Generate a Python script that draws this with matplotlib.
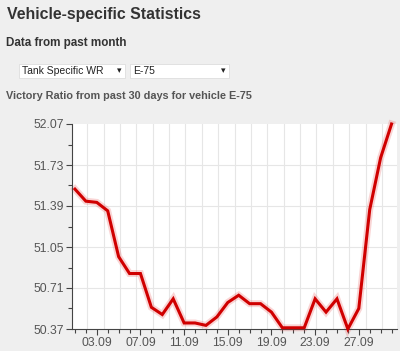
import matplotlib
matplotlib.use("Agg")
import matplotlib.pyplot as plt
from matplotlib.patches import Rectangle
import numpy as np

# data: victory ratio per day (September)
days = list(range(1, 31))
ratio = [51.53, 51.43, 51.42, 51.35, 50.97, 50.83, 50.83, 50.55, 50.49, 50.62,
         50.42, 50.42, 50.40, 50.47, 50.59, 50.65, 50.58, 50.58, 50.51, 50.38,
         50.38, 50.38, 50.62, 50.51, 50.62, 50.37, 50.54, 51.36, 51.79, 52.07]
label_days = [3, 7, 11, 15, 19, 23, 27]
tick_labels = ["03.09", "07.09", "11.09", "15.09", "19.09", "23.09", "27.09"]

FONT = ["Liberation Sans", "DejaVu Sans"]
BG = "#efefef"
plt.rcParams["font.family"] = FONT

fig = plt.figure(figsize=(4.0, 3.51), dpi=100, facecolor=BG)

# header texts
fig.text(7 / 400, 1 - 14 / 351, "Vehicle-specific Statistics", fontsize=11.4,
         fontweight="bold", color="#333333", va="center", ha="left")
fig.text(6 / 400, 1 - 43 / 351, "Data from past month", fontsize=8.4,
         fontweight="bold", color="#333333", va="center", ha="left")
fig.text(6 / 400, 1 - 96 / 351, "Victory Ratio from past 30 days for vehicle E-75",
         fontsize=7.8, fontweight="bold", color="#555555", va="center", ha="left")

# the two dropdowns
for x0, x1, txt in [(19, 125, "Tank Specific WR"), (130, 229, "E-75")]:
    fig.patches.append(Rectangle((x0 / 400, 1 - 77.5 / 351), (x1 - x0) / 400, 14 / 351,
                                 transform=fig.transFigure, facecolor="white",
                                 edgecolor="#dddddd", linewidth=0.6))
    fig.text((x0 + 3) / 400, 1 - 70.5 / 351, txt, fontsize=7.5, color="#222222",
             va="center", ha="left")
    fig.text((x1 - 6) / 400, 1 - 70.5 / 351, "\u25be", fontsize=6.5, color="#222222",
             va="center", ha="center")

ax = fig.add_axes([72 / 400, 1 - 329 / 351, 325 / 400, 205 / 351])
ax.set_facecolor("white")

ymin, ymax = min(ratio), max(ratio)
ax.set_ylim(ymin, ymax)
ax.set_xlim(0.73, 30.5)

yt = np.linspace(ymin, ymax, 6)
ax.set_yticks(yt)
ax.set_yticklabels([f"{v:.2f}" for v in yt])
ax.set_yticks((yt[:-1] + yt[1:]) / 2, minor=True)
ax.set_xticks(label_days)
ax.set_xticklabels(tick_labels)
ax.set_xticks(days, minor=True)

# grid
for v in yt[1:-1]:
    ax.axhline(v, color="#e6e6e6", linewidth=0.8, zorder=0)
for g in np.arange(2.12, 30.5, 1.5):
    ax.axvline(g, color="#e6e6e6", linewidth=0.8, zorder=0)

# glow + line
ax.plot(days, ratio, color="#e84040", linewidth=5, alpha=0.22,
        solid_joinstyle="miter", clip_on=False, zorder=2)
ax.plot(days, ratio, color="#d00000", linewidth=2.2, solid_joinstyle="miter",
        clip_on=False, zorder=3)

for s in ["top", "right"]:
    ax.spines[s].set_visible(False)
for s in ["left", "bottom"]:
    ax.spines[s].set_color("#444444")
    ax.spines[s].set_linewidth(0.8)

ax.tick_params(axis="both", which="major", length=4, width=0.8, color="#444444",
               labelsize=8.7, labelcolor="#555555", pad=1.5)
ax.tick_params(axis="both", which="minor", length=3, width=0.8, color="#444444")

fig.savefig("out.png", dpi=100, facecolor=BG)
